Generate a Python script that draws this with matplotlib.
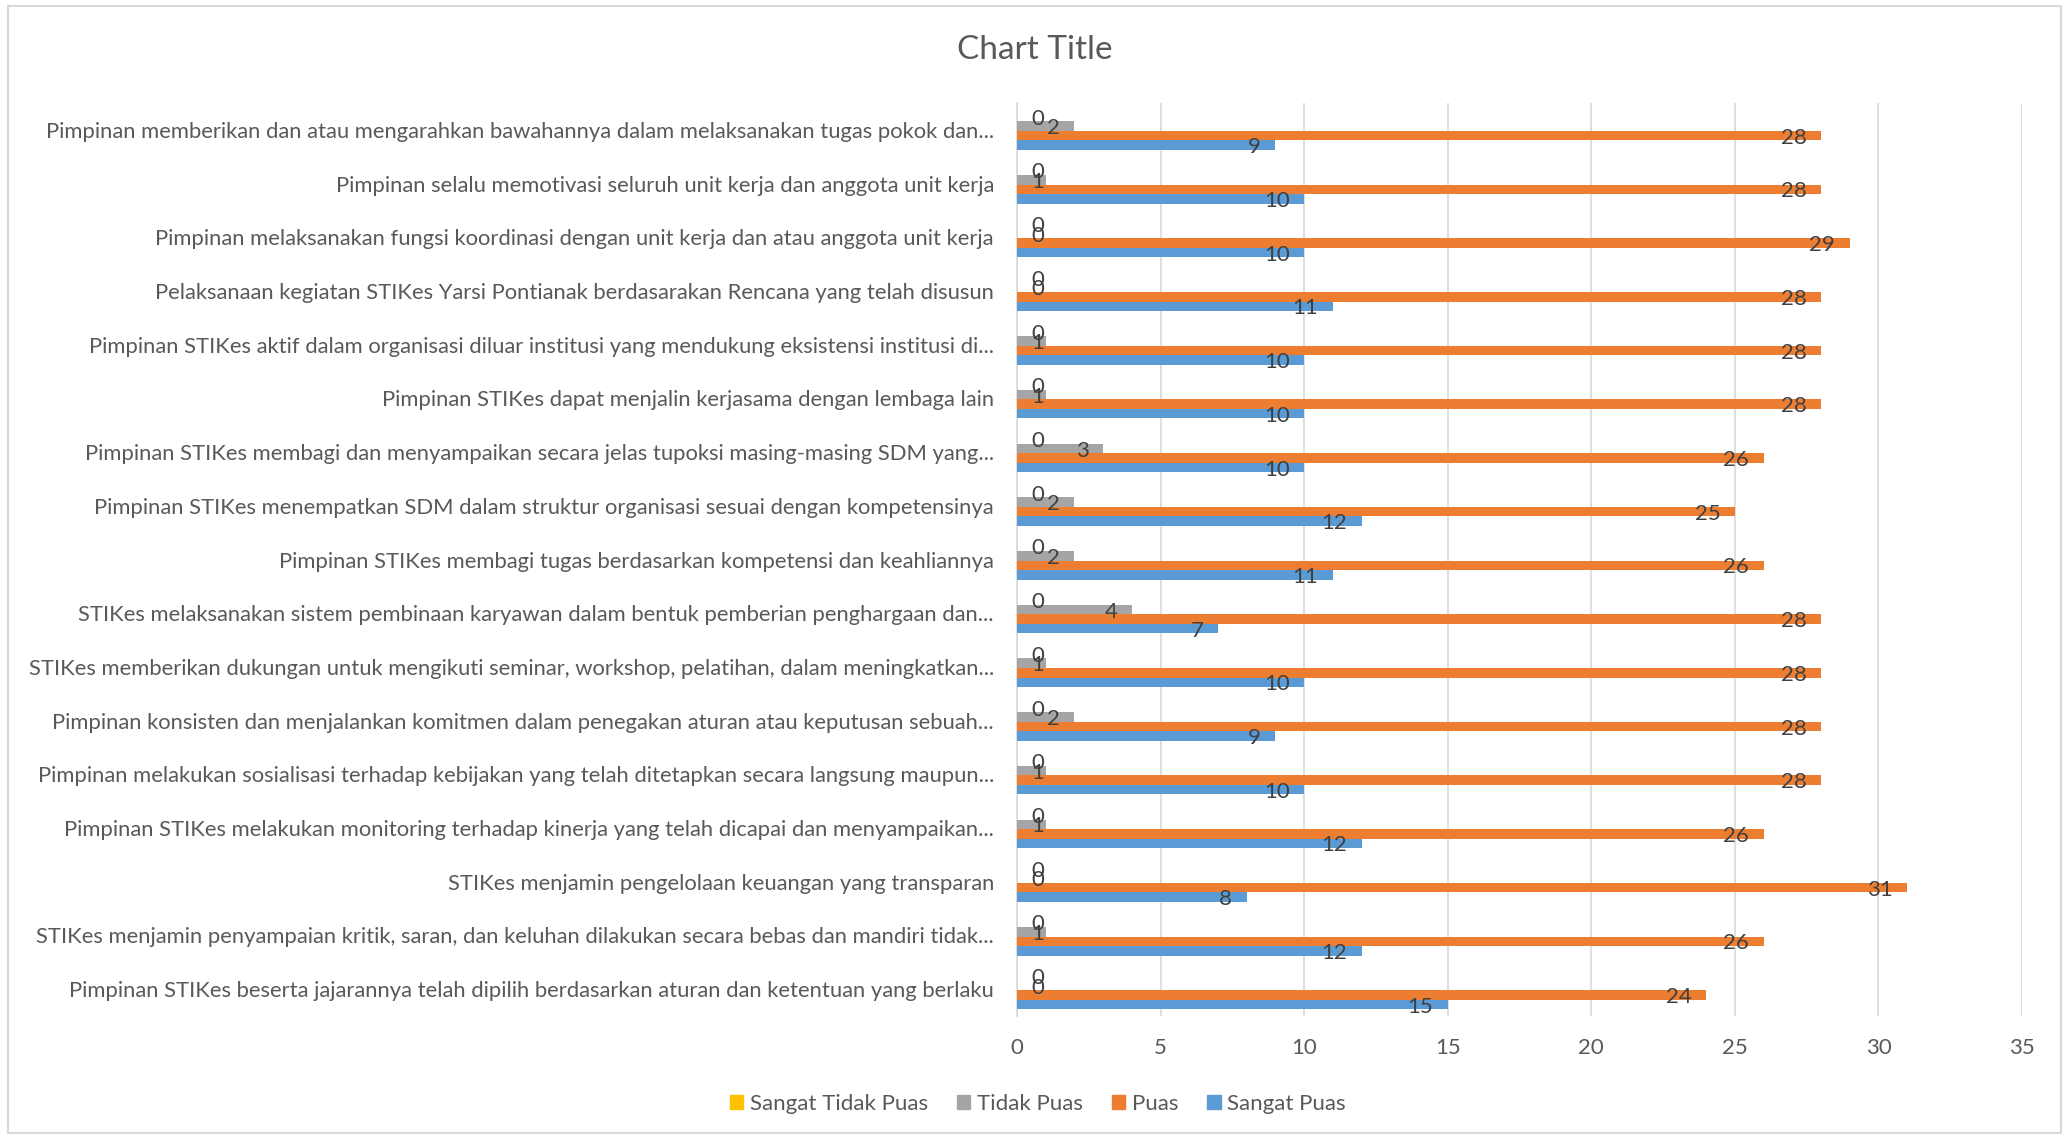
import matplotlib
matplotlib.use("Agg")
import matplotlib.pyplot as plt
import matplotlib.patches as mpatches
import numpy as np

plt.rcParams['font.family'] = ['Lato', 'DejaVu Sans']

# survey items, listed from bottom to top of the chart
items = [
    "Pimpinan STIKes beserta jajarannya telah dipilih berdasarkan aturan dan ketentuan yang berlaku",
    "STIKes menjamin penyampaian kritik, saran, dan keluhan dilakukan secara bebas dan mandiri tidak...",
    "STIKes menjamin pengelolaan keuangan yang transparan",
    "Pimpinan STIKes melakukan monitoring terhadap kinerja yang telah dicapai dan menyampaikan...",
    "Pimpinan melakukan sosialisasi terhadap kebijakan yang telah ditetapkan secara langsung maupun...",
    "Pimpinan konsisten dan menjalankan komitmen dalam penegakan aturan atau keputusan sebuah...",
    "STIKes memberikan dukungan untuk mengikuti seminar, workshop, pelatihan, dalam meningkatkan...",
    "STIKes melaksanakan sistem pembinaan karyawan dalam bentuk pemberian penghargaan dan...",
    "Pimpinan STIKes membagi tugas berdasarkan kompetensi dan keahliannya",
    "Pimpinan STIKes menempatkan SDM dalam struktur organisasi sesuai dengan kompetensinya",
    "Pimpinan STIKes membagi dan menyampaikan secara jelas tupoksi masing-masing SDM yang...",
    "Pimpinan STIKes dapat menjalin kerjasama dengan lembaga lain",
    "Pimpinan STIKes aktif dalam organisasi diluar institusi yang mendukung eksistensi institusi di...",
    "Pelaksanaan kegiatan STIKes Yarsi Pontianak berdasarakan Rencana yang telah disusun",
    "Pimpinan melaksanakan fungsi koordinasi dengan unit kerja dan atau anggota unit kerja",
    "Pimpinan selalu memotivasi seluruh unit kerja dan anggota unit kerja",
    "Pimpinan memberikan dan atau mengarahkan bawahannya dalam melaksanakan tugas pokok dan...",
]

sangat_tidak_puas = [0, 0, 0, 0, 0, 0, 0, 0, 0, 0, 0, 0, 0, 0, 0, 0, 0]
tidak_puas = [0, 1, 0, 1, 1, 2, 1, 4, 2, 2, 3, 1, 1, 0, 0, 1, 2]
puas = [24, 26, 31, 26, 28, 28, 28, 28, 26, 25, 26, 28, 28, 28, 29, 28, 28]
sangat_puas = [15, 12, 8, 12, 10, 9, 10, 7, 11, 12, 10, 10, 10, 11, 10, 10, 9]

series_names = ["Sangat Tidak Puas", "Tidak Puas", "Puas", "Sangat Puas"]
series_colors = ["#FFC000", "#A5A5A5", "#ED7D31", "#5B9BD5"]
series_values = [sangat_tidak_puas, tidak_puas, puas, sangat_puas]

text_color = "#595959"
label_color = "#404040"
fs = 16

fig = plt.figure(figsize=(20.69, 11.37), dpi=100)
ax = fig.add_axes([0.4915, 0.1064, 0.4858, 0.803])

y = np.arange(len(items))
h = 0.177
offsets = [1.5 * h, 0.5 * h, -0.5 * h, -1.5 * h]

for vals, col, off in zip(series_values, series_colors, offsets):
    ax.barh(y + off - 0.02, vals, height=h, color=col, zorder=3)
    for yi, v in zip(y, vals):
        if v <= 1:
            ax.annotate(str(v), (0, yi + off - 0.02), xytext=(10.5, -1.5),
                        textcoords="offset points", ha="left", va="center",
                        fontsize=fs, color=label_color, zorder=5)
        else:
            ax.annotate(str(v), (v, yi + off - 0.02), xytext=(-10.5, -1.5),
                        textcoords="offset points", ha="right", va="center",
                        fontsize=fs, color=label_color, zorder=5)

ax.set_xlim(0, 35)
ax.set_ylim(-0.5, len(items) - 0.5)
ax.set_xticks(np.arange(0, 36, 5))
ax.set_yticks(y)
ax.set_yticklabels(items)
ax.tick_params(axis="y", length=0, pad=16.5, labelsize=15.8, labelcolor=text_color)
ax.tick_params(axis="x", length=0, pad=16, labelsize=fs, labelcolor=text_color)
ax.grid(axis="x", color="#D9D9D9", linewidth=1.2, zorder=0)
for s in ["top", "right", "bottom"]:
    ax.spines[s].set_visible(False)
ax.spines["left"].set_color("#D9D9D9")
ax.spines["left"].set_linewidth(1.2)

fig.text(0.5, 1 - 50 / 1137, "Chart Title", ha="center", va="center",
         fontsize=24, color=text_color)

handles = [mpatches.Patch(color=c, label=n) for n, c in zip(series_names, series_colors)]
fig.legend(handles=handles, loc="center", bbox_to_anchor=(1038 / 2069, 1 - 1104 / 1137),
           ncol=4, frameon=False, fontsize=fs, labelcolor=text_color,
           handlelength=0.6, handleheight=0.6, handletextpad=0.3, columnspacing=1.3)

# outer chart border
fig.patches.append(mpatches.Rectangle((8 / 2069, 4 / 1137), 2053 / 2069, 1127 / 1137,
                                      transform=fig.transFigure, fill=False,
                                      edgecolor="#D9D9D9", linewidth=1.5))

fig.savefig("out.png", dpi=100, facecolor="white")
